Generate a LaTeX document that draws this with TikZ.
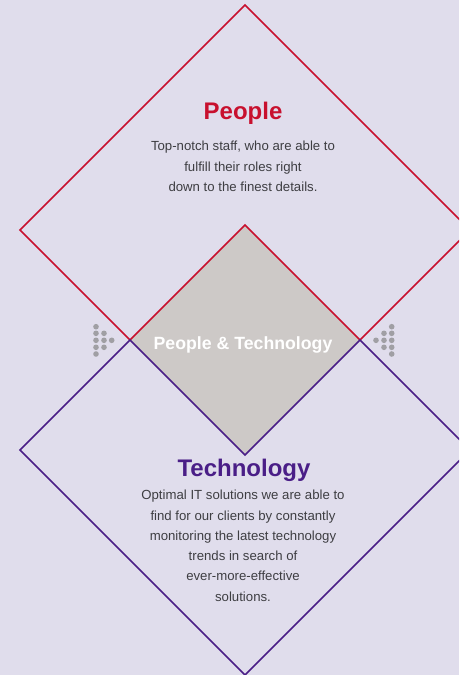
\documentclass[tikz,border=0pt]{standalone}
\usepackage{fontspec}
\setmainfont{Liberation Sans}
\definecolor{bgc}{RGB}{224,221,236}
\definecolor{grayfill}{RGB}{205,201,199}
\definecolor{redc}{RGB}{200,16,46}
\definecolor{purc}{RGB}{74,30,135}
\definecolor{dotc}{RGB}{160,159,164}
\definecolor{txtc}{RGB}{62,62,66}
\tikzset{
  outline/.style={line width=1.6pt, line join=miter},
  title/.style={font=\fontsize{24}{28}\selectfont\bfseries, inner sep=0pt, anchor=base},
  body/.style={font=\fontsize{13.2}{20.3}\selectfont, text=txtc, align=center, inner sep=0pt, anchor=north},
  dot/.style={fill=dotc, draw=none},
}
\begin{document}
\begin{tikzpicture}[x=1pt,y=-1pt]
\fill[bgc] (0,0) rectangle (459,675);
\useasboundingbox (0,0) rectangle (459,675);
\clip (0,0) rectangle (459,675);
% central overlap
\fill[grayfill] (245,225) -- (360,340) -- (245,455) -- (130,340) -- cycle;
% red outline
\draw[outline, redc] (245,5) -- (20,230) -- (130,340) -- (245,225) -- (360,340) -- (470,230) -- cycle;
% purple outline
\draw[outline, purc] (20,450) -- (130,340) -- (245,455) -- (360,340) -- (470,450) -- (245,675) -- cycle;
% dots left
\foreach \y in {326.7,333.3,340.3,347.3,354}{\fill[dot] (96,\y) circle (2.8);}
\foreach \y in {333.3,340.3,347.3}{\fill[dot] (104,\y) circle (2.8);}
\fill[dot] (111.7,340.3) circle (2.8);
% dots right
\foreach \y in {326.7,333.3,340.3,347.3,354}{\fill[dot] (391.7,\y) circle (2.8);}
\foreach \y in {333.3,340.3,347.3}{\fill[dot] (384,\y) circle (2.8);}
\fill[dot] (376,340.3) circle (2.8);
% texts
\node[title, text=redc] (ptitle) at (243,119.5) {People};
\node[body] (pbody) at (243,141) {Top-notch staff, who are able to\\fulfill their roles right\\down to the finest details.};
\node[font=\fontsize{17.7}{20}\selectfont\bfseries, text=white, inner sep=0pt, anchor=base] (mid) at (243,349.5) {People \& Technology};
\node[title, text=purc] (ttitle) at (244,476) {Technology};
\node[body] (tbody) at (243,490) {Optimal IT solutions we are able to\\find for our clients by constantly\\monitoring the latest technology\\trends in search of\\ever-more-effective\\solutions.};
\end{tikzpicture}
\end{document}
